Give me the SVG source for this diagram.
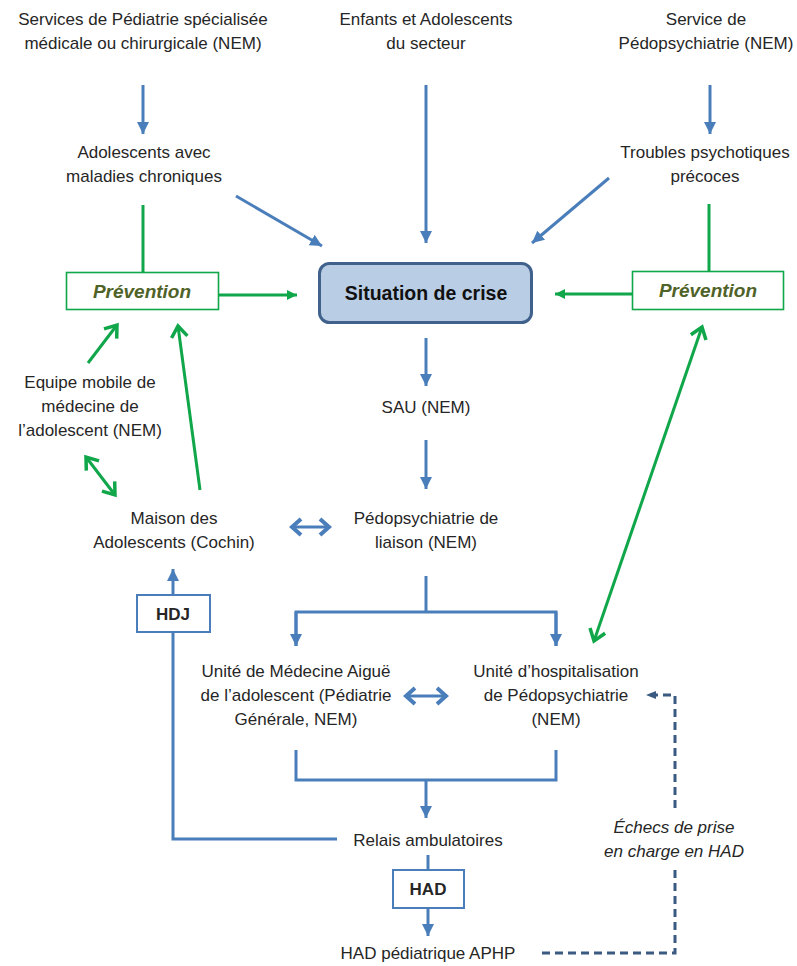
<svg xmlns="http://www.w3.org/2000/svg" width="797" height="966" viewBox="0 0 797 966">
<defs>
<style>
text{font-family:"Liberation Sans",Arial,sans-serif;font-size:17px;fill:#262626;text-anchor:middle}
.b{font-weight:bold}
.prev{font-weight:bold;font-style:italic;fill:#4F6228;font-size:19px}
.it{font-style:italic}
.bl{stroke:#4A7EBB;stroke-width:3;fill:none}
.gr{stroke:#10A64A;stroke-width:3;fill:none}
.dash{stroke:#3B5A82;stroke-width:3;fill:none;stroke-dasharray:8,5}
</style>
<marker id="ab" markerUnits="userSpaceOnUse" markerWidth="14" markerHeight="14" refX="12" refY="6" orient="auto-start-reverse" viewBox="0 0 14 12"><path d="M0,0 L12,6 L0,12 z" fill="#4A7EBB"/></marker>
<marker id="ag" markerUnits="userSpaceOnUse" markerWidth="12" markerHeight="12" refX="10" refY="5" orient="auto-start-reverse" viewBox="0 0 12 10"><path d="M0,0 L10,5 L0,10 z" fill="#10A64A"/></marker>
<marker id="og" markerUnits="userSpaceOnUse" markerWidth="16" markerHeight="20" refX="13" refY="9" orient="auto-start-reverse" viewBox="0 0 16 18"><path d="M2,1 L13,9 L2,17" fill="none" stroke="#10A64A" stroke-width="3.5"/></marker>
<marker id="ob" markerUnits="userSpaceOnUse" markerWidth="14" markerHeight="20" refX="11" refY="9" orient="auto-start-reverse" viewBox="0 0 14 18"><path d="M2,1 L11,9 L2,17" fill="none" stroke="#4A7EBB" stroke-width="4"/></marker>
<marker id="ad" markerUnits="userSpaceOnUse" markerWidth="12" markerHeight="10" refX="10" refY="4" orient="auto" viewBox="0 0 12 8"><path d="M0,0 L10,4 L0,8 z" fill="#3B5A82"/></marker>
</defs>
<rect width="797" height="966" fill="#fff"/>

<g id="connectors">
<line class="bl" x1="143" y1="85" x2="143" y2="134" marker-end="url(#ab)"/>
<line class="bl" x1="426" y1="85" x2="426" y2="243" marker-end="url(#ab)"/>
<line class="bl" x1="710" y1="85" x2="710" y2="134" marker-end="url(#ab)"/>
<line class="bl" x1="236" y1="196" x2="322" y2="246" marker-end="url(#ab)"/>
<line class="bl" x1="609" y1="178" x2="532" y2="243" marker-end="url(#ab)"/>
<line class="gr" x1="143" y1="205" x2="143" y2="272"/>
<line class="gr" x1="709" y1="204" x2="709" y2="271"/>
<line class="gr" x1="219" y1="295" x2="297" y2="295" marker-end="url(#ag)"/>
<line class="gr" x1="632" y1="294" x2="555" y2="294" marker-end="url(#ag)"/>
<line class="bl" x1="426" y1="338" x2="426" y2="386" marker-end="url(#ab)"/>
<line class="bl" x1="426" y1="440" x2="426" y2="489" marker-end="url(#ab)"/>
<line class="gr" x1="88" y1="363" x2="117" y2="325" marker-end="url(#og)"/>
<line class="gr" x1="200" y1="490" x2="178" y2="326" marker-end="url(#og)"/>
<line class="gr" x1="86" y1="457" x2="115" y2="495" marker-start="url(#og)" marker-end="url(#og)"/>
<line class="gr" x1="702" y1="327" x2="594" y2="641" marker-start="url(#og)" marker-end="url(#og)"/>
<line class="bl" x1="292" y1="527" x2="329" y2="527" stroke-width="3.5" marker-start="url(#ob)" marker-end="url(#ob)"/>
<line class="bl" x1="406" y1="696" x2="446" y2="696" stroke-width="3.5" marker-start="url(#ob)" marker-end="url(#ob)"/>
<line class="bl" x1="173" y1="594" x2="173" y2="569" marker-end="url(#ab)"/>
<polyline class="bl" points="173,632 173,839 337,839"/>
<line class="bl" x1="426" y1="576" x2="426" y2="612"/>
<polyline class="bl" points="296,646 296,612 556,612 556,646"/>
<line class="bl" x1="296" y1="612" x2="296" y2="646" marker-end="url(#ab)"/>
<line class="bl" x1="556" y1="612" x2="556" y2="646" marker-end="url(#ab)"/>
<polyline class="bl" points="296,750 296,780 556,780 556,750"/>
<line class="bl" x1="426" y1="780" x2="426" y2="818" marker-end="url(#ab)"/>
<line class="bl" x1="428" y1="855" x2="428" y2="870"/>
<line class="bl" x1="428" y1="908" x2="428" y2="936" marker-end="url(#ab)"/>
<polyline class="dash" points="542,953 675,953 675,869"/>
<polyline class="dash" points="675,808 675,695 646,695" marker-end="url(#ad)"/>
</g>

<g id="n-services-pediatrie"><text x="143" y="25">Services de Pédiatrie spécialisée</text><text x="143" y="49">médicale ou chirurgicale (NEM)</text></g>
<g id="n-enfants"><text x="426" y="25">Enfants et Adolescents</text><text x="426" y="49">du secteur</text></g>
<g id="n-service-pedopsy"><text x="706" y="25">Service de</text><text x="706" y="49">Pédopsychiatrie (NEM)</text></g>
<g id="n-ado-chroniques"><text x="144" y="158">Adolescents avec</text><text x="144" y="182">maladies chroniques</text></g>
<g id="n-troubles"><text x="705" y="158">Troubles psychotiques</text><text x="705" y="182">précoces</text></g>
<g id="n-prevention-left"><rect x="66.5" y="272.5" width="152" height="37" fill="#fff" stroke="#10A64A" stroke-width="1.6"/><text class="prev" x="142" y="298">Prévention</text></g>
<g id="n-prevention-right"><rect x="632.5" y="271.5" width="151" height="38" fill="#fff" stroke="#10A64A" stroke-width="1.6"/><text class="prev" x="708" y="297">Prévention</text></g>
<g id="n-situation"><rect x="319.5" y="263.5" width="212" height="59" rx="10" fill="#B9CDE5" stroke="#3F618C" stroke-width="3"/><text class="b" x="426" y="300" style="font-size:19.5px;fill:#111">Situation de crise</text></g>
<g id="n-sau"><text x="426" y="413">SAU (NEM)</text></g>
<g id="n-equipe-mobile"><text x="90" y="388">Equipe mobile de</text><text x="90" y="412">médecine de</text><text x="90" y="436">l’adolescent  (NEM)</text></g>
<g id="n-maison"><text x="174" y="524">Maison des</text><text x="174" y="548">Adolescents (Cochin)</text></g>
<g id="n-pedopsy-liaison"><text x="426" y="524">Pédopsychiatrie de</text><text x="426" y="548">liaison (NEM)</text></g>
<g id="n-hdj"><rect x="137" y="595" width="73" height="37" fill="#fff" stroke="#4A7EBB" stroke-width="2"/><text class="b" x="173" y="620">HDJ</text></g>
<g id="n-unite-medecine"><text x="296" y="677">Unité de Médecine Aiguë</text><text x="296" y="701">de l’adolescent (Pédiatrie</text><text x="296" y="725">Générale, NEM)</text></g>
<g id="n-unite-hospit"><text x="556" y="677">Unité d’hospitalisation</text><text x="556" y="701">de Pédopsychiatrie</text><text x="556" y="725">(NEM)</text></g>
<g id="n-relais"><text x="428" y="846">Relais ambulatoires</text></g>
<g id="n-had"><rect x="393" y="870" width="71" height="38" fill="#fff" stroke="#4A7EBB" stroke-width="2"/><text class="b" x="428" y="895">HAD</text></g>
<g id="n-had-ped"><text x="428" y="959">HAD pédiatrique APHP</text></g>
<g id="n-echecs"><text class="it" x="674" y="833">Échecs de prise</text><text class="it" x="674" y="857">en charge en HAD</text></g>
</svg>
